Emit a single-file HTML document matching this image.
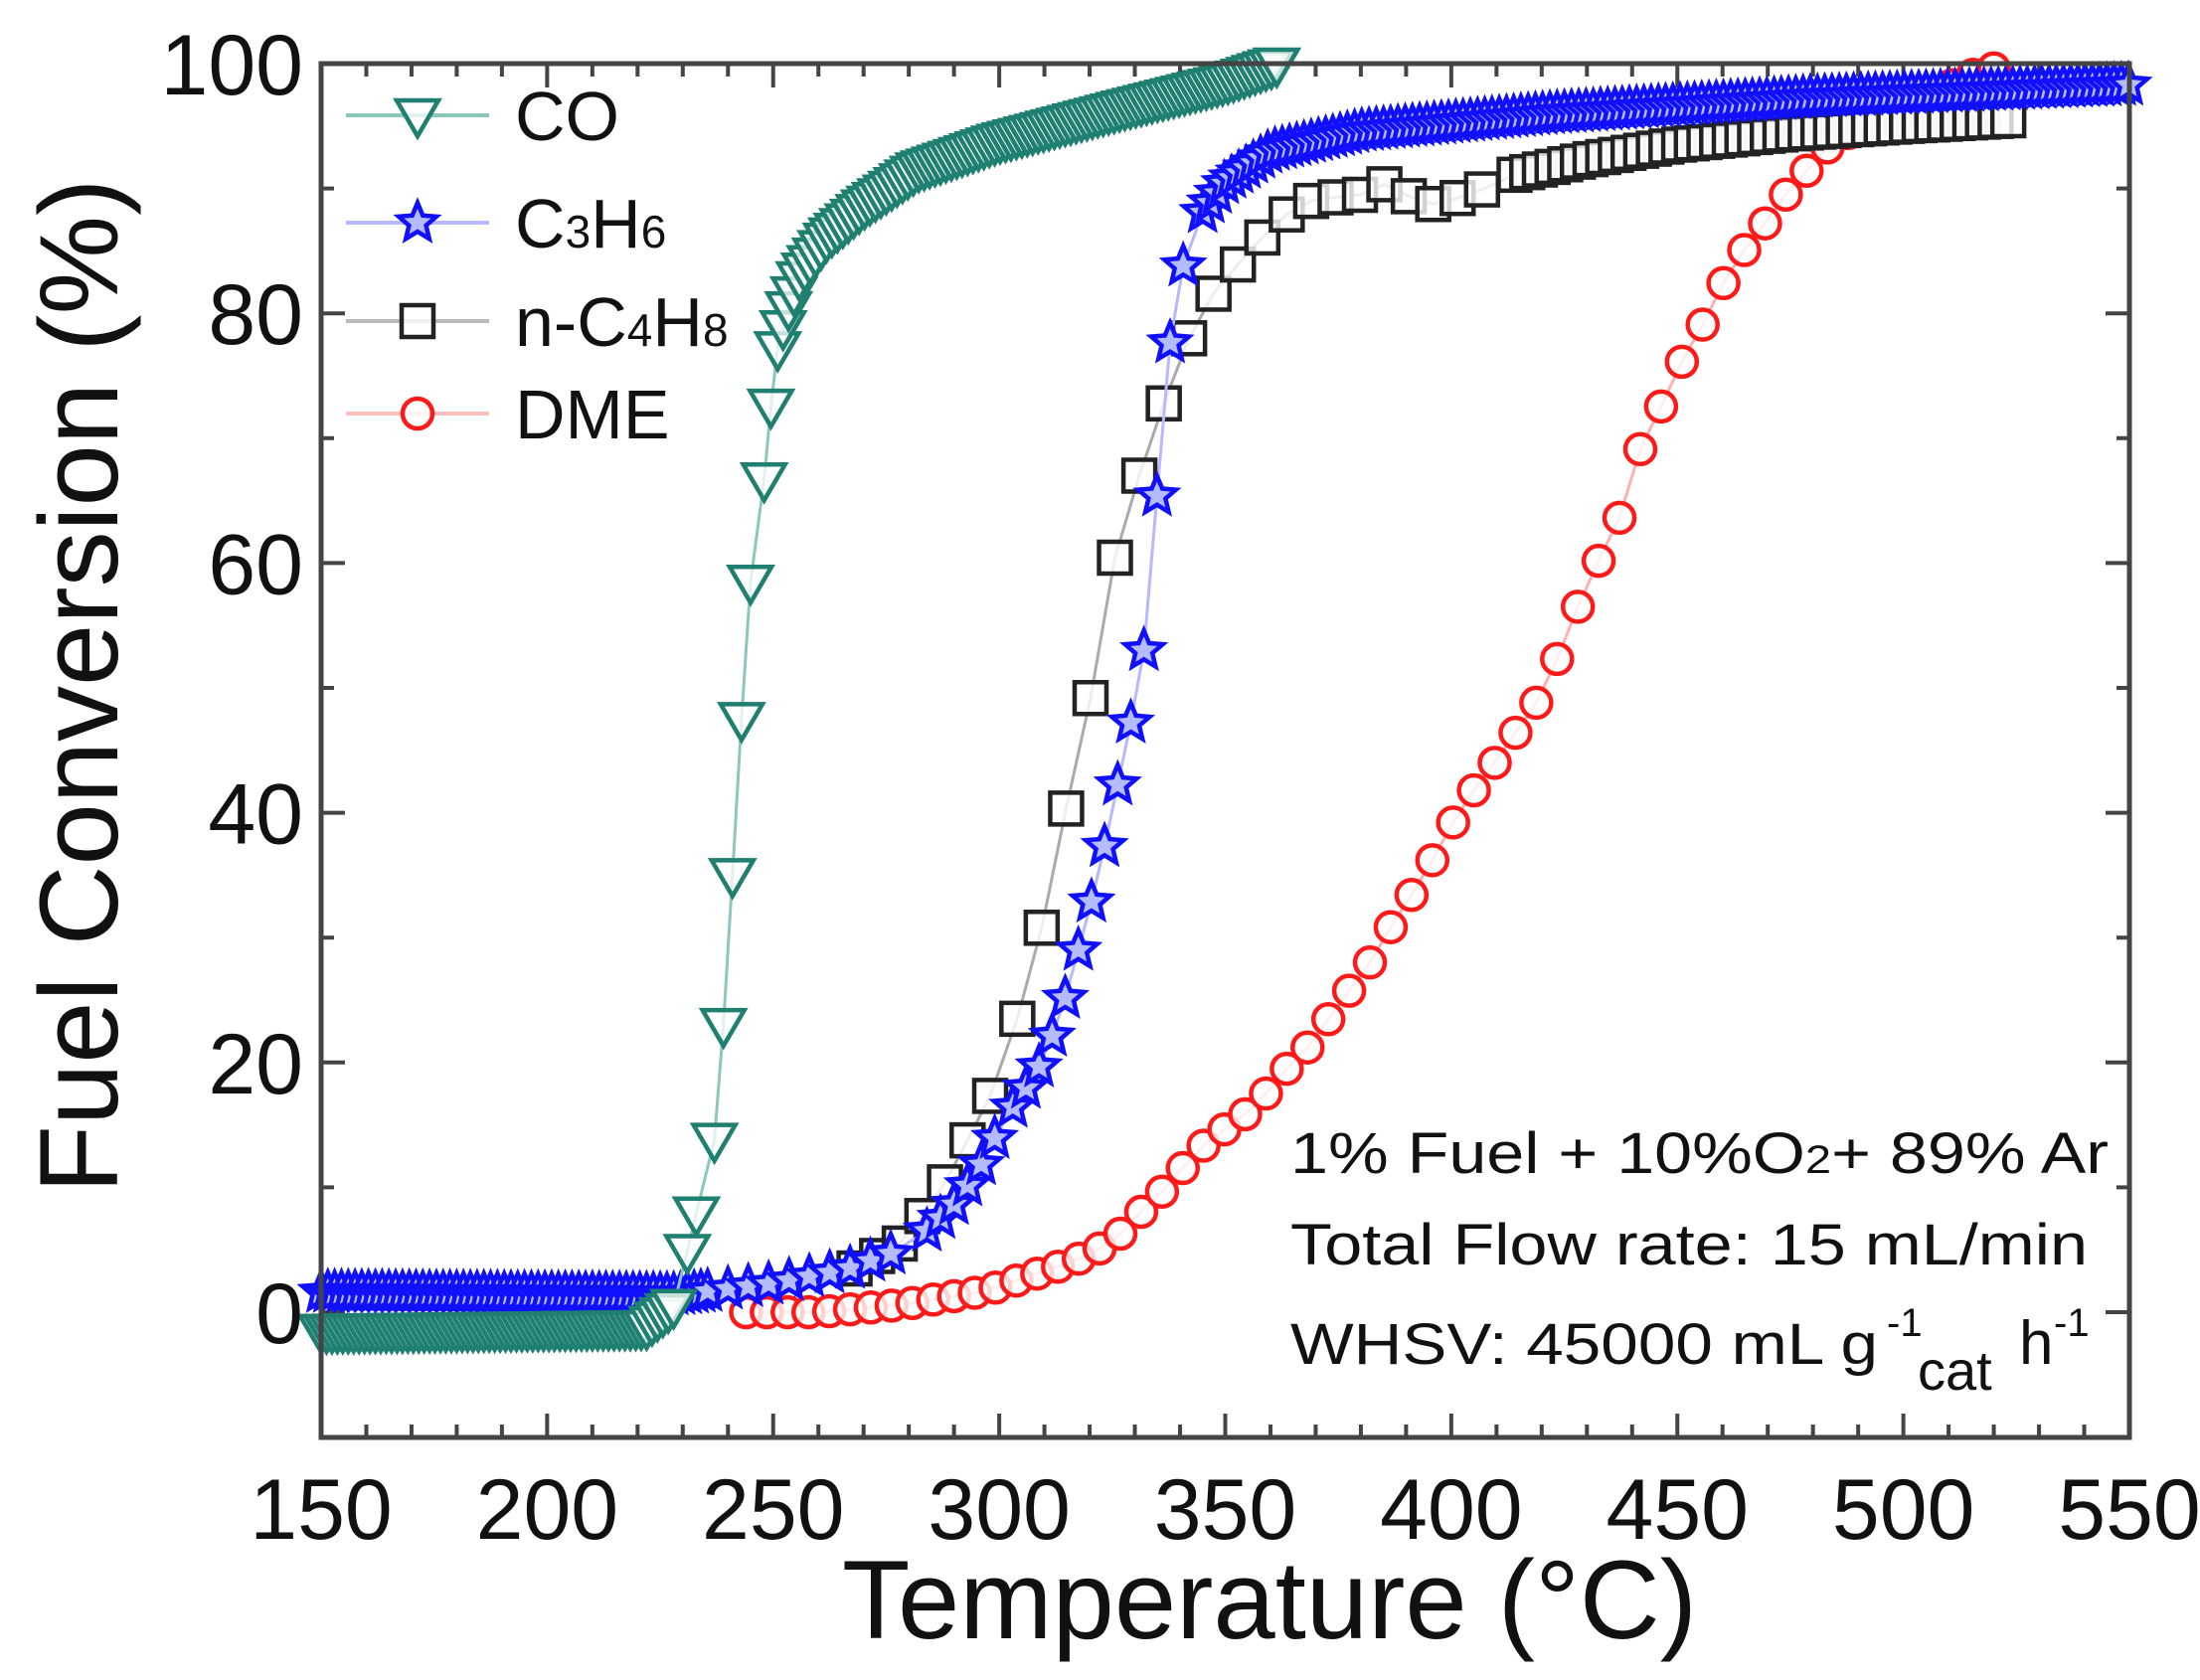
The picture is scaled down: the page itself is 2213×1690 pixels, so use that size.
<!DOCTYPE html>
<html><head><meta charset="utf-8"><style>
html,body{margin:0;padding:0;background:#fff;width:2213px;height:1690px;overflow:hidden}
svg{display:block}
text{font-family:"Liberation Sans",Arial,sans-serif;fill:#111}
</style></head><body>
<svg id="s" width="2213" height="1690" viewBox="0 0 2213 1690" xmlns="http://www.w3.org/2000/svg">
<g id="ticks"></g>
<g id="data"></g>
<rect x="323" y="64" width="1819" height="1382" fill="none" stroke="#444" stroke-width="5"/>
<g id="labels" font-size="86"></g>
<text x="1277" y="1648" font-size="112" text-anchor="middle">Temperature (°C)</text>
<text transform="translate(118,690) rotate(-90)" font-size="112" text-anchor="middle">Fuel Conversion (%)</text>
<g id="legend"></g>
<g font-size="58">
<text x="1298" y="1180" textLength="823" lengthAdjust="spacingAndGlyphs">1% Fuel + 10%O<tspan font-size="40">2</tspan>+ 89% Ar</text>
<text x="1298" y="1272" textLength="802" lengthAdjust="spacingAndGlyphs">Total Flow rate: 15 mL/min</text>
<text x="1298" y="1372" textLength="591" lengthAdjust="spacingAndGlyphs">WHSV: 45000 mL g</text>
<text x="1898" y="1344" font-size="40">-1</text>
<text x="1929" y="1398" font-size="56">cat</text>
<text x="2031" y="1372" font-size="62">h</text>
<text x="2066" y="1344" font-size="40">-1</text>
</g>
</svg>
<script>
var NS="http://www.w3.org/2000/svg";
function X(t){return 323+(t-150)*4.5475;}
function Y(v){return 64+(100-v)*12.56;}
function el(p,tag,a){var e=document.createElementNS(NS,tag);for(var k in a)e.setAttribute(k,a[k]);p.appendChild(e);return e;}
function interp(k,t){for(var i=0;i<k.length-1;i++){if(t<=k[i+1][0]){var a=k[i],b=k[i+1];return a[1]+(b[1]-a[1])*(t-a[0])/(b[0]-a[0]);}}return k[k.length-1][1];}
function gen(k,segs){var pts=[];segs.forEach(function(s){for(var t=s[0];t<=s[1]+1e-6;t+=s[2])pts.push([t,interp(k,t)]);});return pts;}
var tk=document.getElementById('ticks'),lb=document.getElementById('labels');
for(var t=150;t<=550;t+=10){var maj=(t%50==0),L=maj?24:13,x=X(t);
el(tk,'line',{x1:x,y1:1446,x2:x,y2:1446-L,stroke:'#444','stroke-width':4});
el(tk,'line',{x1:x,y1:64,x2:x,y2:64+L,stroke:'#444','stroke-width':4});
if(maj){var e=el(lb,'text',{x:x,y:1548,'text-anchor':'middle'});e.textContent=t;}}
for(var v=-10;v<=100;v+=10){var maj=(v%20==0),L=maj?24:13,y=Y(v);
el(tk,'line',{x1:323,y1:y,x2:323+L,y2:y,stroke:'#444','stroke-width':4});
el(tk,'line',{x1:2142,y1:y,x2:2142-L,y2:y,stroke:'#444','stroke-width':4});
if(maj){var e=el(lb,'text',{x:305,y:y+31,'text-anchor':'end'});e.textContent=v;}}
function starPath(cx,cy,R){var r=R*0.45,d='';for(var i=0;i<10;i++){var a=-Math.PI/2+i*Math.PI/5,rr=i%2?r:R;d+=(i?'L':'M')+(cx+rr*Math.cos(a)).toFixed(1)+' '+(cy+rr*Math.sin(a)).toFixed(1);}return d+'Z';}
function marker(g,type,cx,cy,col){
if(type=='tri'){var w=21;el(g,'path',{d:'M'+(cx-w)+' '+(cy-15)+'L'+(cx+w)+' '+(cy-15)+'L'+cx+' '+(cy+21)+'Z',fill:'#fff','fill-opacity':0.75,stroke:col,'stroke-width':4.5});}
else if(type=='star'){el(g,'path',{d:starPath(cx,cy,20),fill:'#b4bcff',stroke:col,'stroke-width':4.5});}
else if(type=='sq'){el(g,'rect',{x:cx-16,y:cy-16,width:32,height:32,fill:'#fff','fill-opacity':0.8,stroke:'#222','stroke-width':4.5});}
else {el(g,'circle',{cx:cx,cy:cy,r:15,fill:'#fff','fill-opacity':0.8,stroke:col,'stroke-width':4.5});}}
function series(pts,type,col,lc){var g=el(document.getElementById('data'),'g',{});
el(g,'polyline',{points:pts.map(function(p){return X(p[0]).toFixed(1)+','+Y(p[1]).toFixed(1);}).join(' '),fill:'none',stroke:lc,'stroke-width':3});
pts.forEach(function(p){marker(g,type,X(p[0]),Y(p[1]),col);});}
var dk=[[244,0],[260,0],[278.5,0.6],[297,1.7],[306,2.8],[316,4],[325,5.6],[331,7.9],[337,10],[344,13],[350,14.7],[356.5,16.4],[362.8,19.2],[369,21.5],[375,24.6],[381.5,27.7],[386,30.5],[391,33.3],[395.5,36],[400,39],[405,41.8],[409.6,44],[414,46.3],[420.5,49.7],[423.6,52.5],[428,56.5],[433,60.5],[437.7,64],[440.8,68.4],[445.5,71.8],[450,75.5],[454.8,78.5],[459.5,82],[464,84.7],[469,87],[473.5,89.3],[480,92],[484.5,93.8],[490.7,95],[497,96],[503,97],[511,98.3],[517,99.4],[525,100]];
series(gen(dk,[[244,524,4.6]]),'circ','#ff1a1a','#ffb0b0');
var nk=[[268,3.5],[278.5,5.6],[283,7.7],[288,10.4],[292,13],[295,15.3],[299,18],[304,23.5],[310,31.6],[315,40.7],[320.7,50],[325,59.7],[331,67],[336.6,73],[342,78],[347,81.4],[353,84],[358,86],[363,87.8],[369,89],[374.6,89.3],[380,89.5],[385.6,90.4],[391,89.3],[396.5,88.7],[402,89.3],[407.4,90],[412.7,91],[430,92.3],[450,93.5],[475,94.4],[500,95],[525,95.5]];
series(gen(nk,[[268,300,5],[304,336.6,5.4],[342,412,5.4],[414,525,2.8]]),'sq','#222','#aaa');
var ck=[[150,1.6],[229,1.4],[250,2.3],[266,3.4],[278.5,5],[285,6.8],[291,9],[297,12.4],[300,14.7],[304,17],[308,19],[311,21.5],[313.5,23.7],[316,27],[319,31],[322,35],[324.7,39.8],[328.5,46],[332.5,54],[334.7,64.4],[337,75.7],[340,83],[344,87.6],[350,90.5],[360,93],[380,94.6],[422,96],[480,97.3],[550,98.3]];
series(gen(ck,[[150,236,1.5],[240,280,4.5],[284,300,3],[303,342,2.9],[345,550,1.6]]),'star','#1010ff','#b8b8ff');
var ok=[[150,-1.5],[222,-1.2],[228,0.5],[231,4.9],[233,7.9],[237,13.8],[239,23],[241,35],[243,47.5],[245,58.5],[248,66.7],[249.5,72.6],[251,77.2],[253,80],[256,83],[262,86],[270,88.5],[282,91.5],[300,93.8],[328,96.5],[350,98.5],[362,100]];
var cp=gen(ok,[[150,229,1.2]]).concat([[231,4.9],[233,7.9],[237,13.8],[239,23],[241,35],[243,47.5],[245,58.5],[248,66.7],[249.5,72.6]]).concat(gen(ok,[[251,362,1.2]]));
series(cp,'tri','#1f7f70','#8cc7bb');
var lg=document.getElementById('legend');
[['tri','#1f7f70','#8cc7bb',116,'CO'],['star','#1010ff','#b8b8ff',224,'C3H6'],['sq','#222','#bbb',323,'n-C4H8'],['circ','#ff1a1a','#ffc0c0',416,'DME']].forEach(function(r){
el(lg,'line',{x1:348,y1:r[3],x2:492,y2:r[3],stroke:r[2],'stroke-width':4});
marker(lg,r[0],420,r[3],r[1]);
var t=el(lg,'text',{x:518,y:r[3]+25,'font-size':70});
r[4].split(/(\d)/).forEach(function(p){if(!p)return;var s=el(t,'tspan',/\d/.test(p)?{'font-size':46}:{});s.textContent=p;});});
</script>
</body></html>
